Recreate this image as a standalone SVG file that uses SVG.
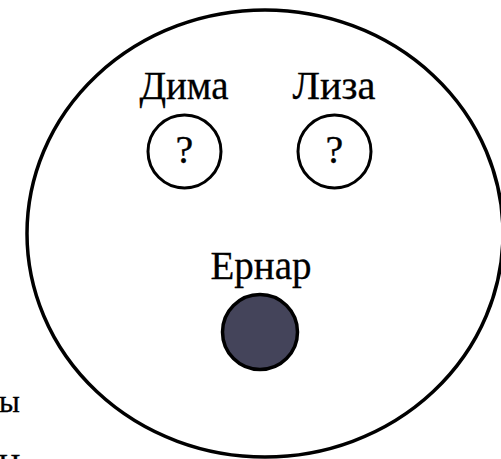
<svg xmlns="http://www.w3.org/2000/svg" width="501" height="459" viewBox="0 0 501 459">
<style>
.t{font-family:"Liberation Serif","DejaVu Serif",serif;fill:#000;stroke:#000;stroke-width:0.3;}
.lbl{font-size:39px;text-anchor:middle;}
.q{font-size:40px;text-anchor:middle;}
.side{font-size:31px;}
.ring{fill:none;stroke:#000;stroke-width:3.5;}
.node{fill:#fff;stroke:#000;stroke-width:3;}
.dark{fill:#44445a;stroke:#000;stroke-width:3.5;}
</style>
<rect width="501" height="459" fill="#fff"/>
<g id="set">
<ellipse class="ring" cx="265" cy="233.5" rx="238" ry="223.5"/>
</g>
<g id="dima">
<text class="t lbl" x="184" y="99" textLength="89" lengthAdjust="spacingAndGlyphs">Дима</text>
<circle class="node" cx="184.5" cy="151.5" r="36.5"/>
<text class="t q" x="184.5" y="163">?</text>
</g>
<g id="liza">
<text class="t lbl" x="334" y="99" textLength="83" lengthAdjust="spacingAndGlyphs">Лиза</text>
<circle class="node" cx="334.5" cy="151.5" r="36.5"/>
<text class="t q" x="334.5" y="163">?</text>
</g>
<g id="ernar">
<text class="t lbl" x="261" y="279" textLength="101" lengthAdjust="spacingAndGlyphs">Ернар</text>
<circle class="dark" cx="260" cy="332" r="37.5"/>
</g>
<g id="side-text">
<text class="t side" x="-1" y="412">ы</text>
<text class="t side" x="-2" y="476">Н</text>
</g>
<g id="connectors"></g>
</svg>
